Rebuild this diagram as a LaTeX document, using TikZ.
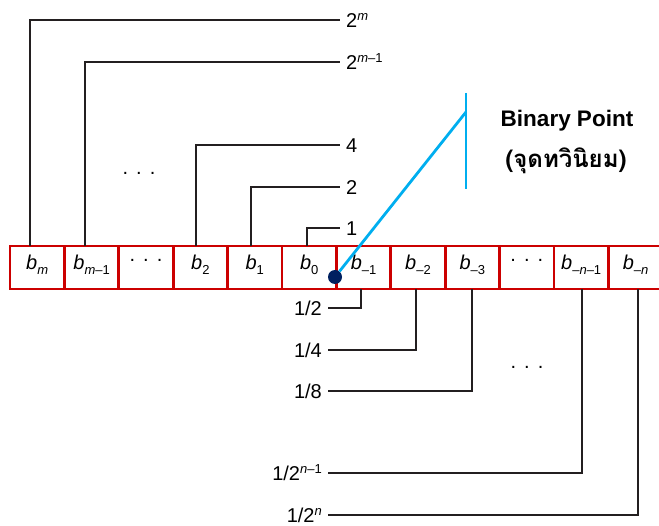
\documentclass[tikz,border=0pt]{standalone}
\usepackage{fontspec}
\setmainfont{Liberation Sans}
\newfontfamily\thaifont[Script=Thai]{Loma}
\usetikzlibrary{positioning}

\definecolor{cellred}{RGB}{204,0,0}
\definecolor{pointblue}{RGB}{0,174,239}
\definecolor{pointnavy}{RGB}{0,32,96}
\definecolor{wireblack}{RGB}{35,31,32}

\newcommand{\bitname}[1]{\textit{b}\raisebox{-5pt}{\fontsize{13}{13}\selectfont #1}}
\newcommand{\pw}[1]{\raisebox{7pt}{\fontsize{13}{13}\selectfont #1}}
\newcommand{\rowdots}{.\hspace{8pt}.\hspace{8pt}.}

\begin{document}
\begin{tikzpicture}[x=1pt, y=-1pt, font=\fontsize{20}{24}\selectfont,
  cell/.style={draw=cellred, line width=2.8pt, minimum width=54.4pt,
               minimum height=43pt, inner sep=0pt, outer sep=0pt,
               text height=10pt, text depth=5pt},
  wlab/.style={anchor=west, inner xsep=6pt, inner ysep=0pt,
               text height=14.3pt, text depth=0pt},
  flab/.style={anchor=east, inner xsep=6pt, inner ysep=0pt,
               text height=14.3pt, text depth=0pt},
  wire/.style={draw=wireblack, line width=2.2pt},
  bluewire/.style={draw=pointblue, line width=2.8pt}]
        \useasboundingbox (0,0) rectangle (659,526);

        % the row of bits
        \node[cell] (cm) at (37.2,267.5) {\bitname{\textit{m}}};
        \node[cell, right=0pt of cm] (cmm) {\bitname{\textit{m}--1}};
        \node[cell, right=0pt of cmm] (cdl) {\raisebox{8pt}{\rowdots}};
        \node[cell, right=0pt of cdl] (c2) {\bitname{2}};
        \node[cell, right=0pt of c2] (c1) {\bitname{1}};
        \node[cell, right=0pt of c1] (c0) {\bitname{0}};
        \node[cell, right=0pt of c0] (cn1) {\bitname{--1}};
        \node[cell, right=0pt of cn1] (cn2) {\bitname{--2}};
        \node[cell, right=0pt of cn2] (cn3) {\bitname{--3}};
        \node[cell, right=0pt of cn3] (cdr) {\raisebox{8pt}{\rowdots}};
        \node[cell, right=0pt of cdr] (cnn) {\bitname{--\textit{n}--1}};
        \node[cell, right=0pt of cnn] (cn) {\bitname{--\textit{n}}};

        % weights of the whole part
        \node[wlab] (w2m) at (340,20) {2\pw{\textit{m}}};
        \node[wlab] (w2mm) at (340,62) {2\pw{\textit{m}--1}};
        \node[wlab] (w4) at (340,145) {4};
        \node[wlab] (w2) at (340,187) {2};
        \node[wlab] (w1) at (340,228) {1};
        \node[inner sep=0pt] (wdots) at (139,173) {\rowdots};

        \draw[wire] ([xshift=-7pt]cm.north) |- (w2m);
        \draw[wire] ([xshift=-6.5pt]cmm.north) |- (w2mm);
        \draw[wire] ([xshift=-4.5pt]c2.north) |- (w4);
        \draw[wire] ([xshift=-4pt]c1.north) |- (w2);
        \draw[wire] ([xshift=-2pt]c0.north) |- (w1);

        % weights of the fraction part
        \node[flab] (f2) at (328,308) {1/2};
        \node[flab] (f4) at (328,350) {1/4};
        \node[flab] (f8) at (328,391) {1/8};
        \node[flab] (f2nn) at (328,473) {1/2\pw{\textit{n}--1}};
        \node[flab] (f2n) at (328,515) {1/2\pw{\textit{n}}};
        \node[inner sep=0pt] (fdots) at (527,367) {\rowdots};

        \draw[wire] ([xshift=-2.5pt]cn1.south) |- (f2);
        \draw[wire] ([xshift=-2pt]cn2.south) |- (f4);
        \draw[wire] ([xshift=-0.5pt]cn3.south) |- (f8);
        \draw[wire] ([xshift=1pt]cnn.south) |- (f2nn);
        \draw[wire] ([xshift=2.5pt]cn.south) |- (f2n);

        % binary point
        \node[circle, fill=pointnavy, minimum size=14pt, inner sep=0pt] (bp) at (335,277) {};
        \coordinate (vt) at (466,93);
        \coordinate (vm) at (466,112);
        \coordinate (vb) at (466,189);
        \draw[bluewire] (vt) -- (vb);
        \draw[bluewire] (bp) -- (vm);
        \node[font=\fontsize{22.5}{26}\selectfont\bfseries] (bpname) at (567,121) {Binary Point};
        \node[font=\fontsize{24}{28}\selectfont\bfseries\thaifont] (bpthai) at (566,161) {(จุดทวินิยม)};
\end{tikzpicture}
\end{document}
